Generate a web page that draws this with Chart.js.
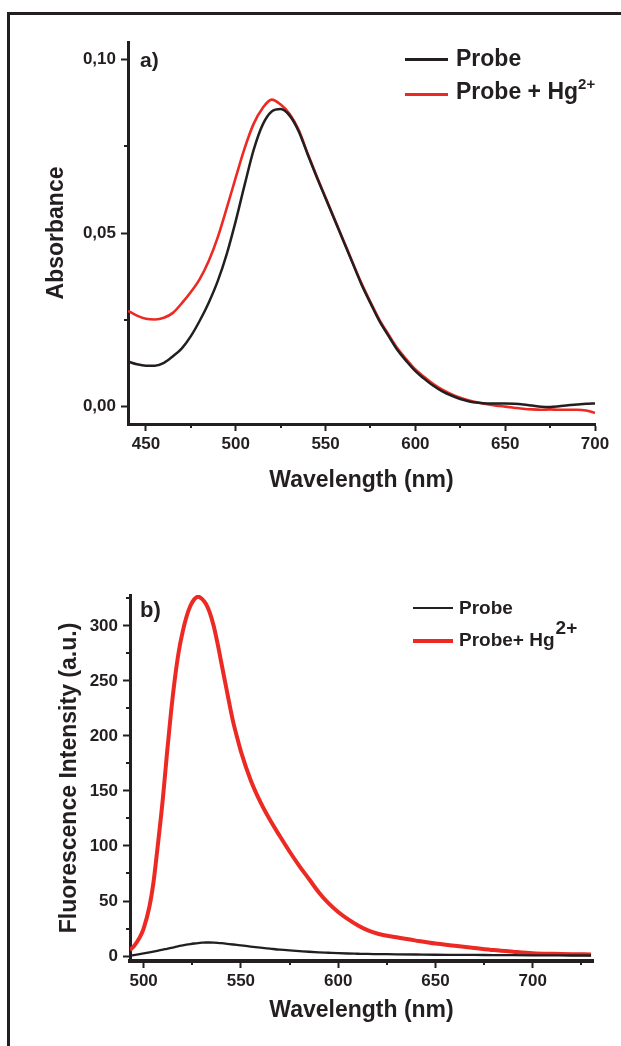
<!DOCTYPE html>
<html><head><meta charset="utf-8">
<script src="https://cdn.jsdelivr.net/npm/chart.js@4.4.1/dist/chart.umd.min.js"></script>
<style>
html,body{margin:0;padding:0;background:#fff;width:621px;height:1046px;overflow:hidden;font-family:"Liberation Sans",Arial,sans-serif;}
#frame{position:absolute;left:7px;top:12px;width:700px;height:1100px;border-left:3px solid #231f20;border-top:3px solid #231f20;}
.c{position:absolute;left:0;width:621px;}
#wa{top:0;height:520px}
#wb{top:530px;height:516px}
.t{position:absolute;font-weight:bold;color:#231f20;white-space:nowrap;}
.ln{position:absolute;}
</style></head><body>
<div id="frame"></div>
<div class="c" id="wa"><canvas id="ca" width="621" height="520"></canvas></div>
<div class="c" id="wb"><canvas id="cb" width="621" height="516"></canvas></div>

<div class="t" style="left:140px;top:49px;font-size:21px;line-height:21px;">a)</div>
<div class="ln" style="left:405px;top:58px;width:43px;height:3px;background:#231f20;"></div>
<div class="t" style="left:456px;top:47px;font-size:23px;line-height:23px;">Probe</div>
<div class="ln" style="left:405px;top:93px;width:43px;height:3px;background:#ec2a23;"></div>
<div class="t" style="left:456px;top:80px;font-size:23px;line-height:23px;">Probe + Hg<span style="font-size:15px;position:relative;top:-10px;">2+</span></div>

<div class="t" style="left:140px;top:599px;font-size:22px;line-height:22px;">b)</div>
<div class="ln" style="left:413px;top:607px;width:40px;height:2px;background:#231f20;"></div>
<div class="t" style="left:459px;top:598px;font-size:19px;line-height:19px;">Probe</div>
<div class="ln" style="left:413px;top:639px;width:40px;height:4px;background:#ec2a23;"></div>
<div class="t" style="left:459px;top:630px;font-size:19px;line-height:19px;">Probe+ Hg<span style="font-size:19px;position:relative;top:-12px;margin-left:1px;">2+</span></div>

<script>
// ---------- Data: panel a) absorbance ----------
const wavelengthA = [440,445,450,455,460,465,470,475,480,485,490,495,500,505,510,515,520,525,530,535,540,545,550,555,560,565,570,575,580,585,590,595,600,605,610,615,620,625,630,635,640,645,650,655,660,665,670,675,680,685,690,695,700];
const probeA = [0.0130,0.0122,0.0118,0.0118,0.0126,0.0145,0.0168,0.0203,0.0248,0.0300,0.0362,0.0440,0.0535,0.0640,0.0740,0.0812,0.0850,0.0857,0.0838,0.0793,0.0727,0.0662,0.0600,0.0538,0.0476,0.0414,0.0352,0.0298,0.0246,0.0204,0.0163,0.0131,0.0102,0.0080,0.0060,0.0044,0.0032,0.0022,0.0015,0.0011,0.0009,0.0009,0.0009,0.0008,0.0006,0.0003,0.0000,-0.0001,0.0001,0.0004,0.0006,0.0008,0.0009];
const probeHgA = [0.0276,0.0262,0.0253,0.0251,0.0256,0.0270,0.0298,0.0330,0.0368,0.0420,0.0488,0.0572,0.0660,0.0745,0.0815,0.0860,0.0884,0.0870,0.0843,0.0797,0.0729,0.0664,0.0602,0.0540,0.0478,0.0416,0.0355,0.0301,0.0250,0.0208,0.0168,0.0136,0.0107,0.0085,0.0065,0.0049,0.0036,0.0026,0.0018,0.0012,0.0007,0.0003,0.0000,-0.0003,-0.0006,-0.0008,-0.0009,-0.0008,-0.0009,-0.0009,-0.0009,-0.0011,-0.0018];
const xTicksA = [450,500,550,600,650,700];
const xMinorA = [475,525,575,625,675];
const yTicksA = [0.00,0.05,0.10];
const yMinorA = [0.025,0.075];

// ---------- Data: panel b) fluorescence ----------
const wavelengthB = [493,495,498,500,503,505,507,510,512,514,516,518,520,522,524,526,528,530,532,534,536,538,540,542,544,546,548,550,555,560,565,570,575,580,585,590,595,600,605,610,615,620,630,640,650,660,670,680,690,700,710,720,730];
const probeB = [0.3,0.9,1.8,2.4,3.4,4.1,4.8,5.9,6.6,7.4,8.1,8.9,9.6,10.3,10.9,11.4,11.8,12.1,12.3,12.3,12.2,12.0,11.7,11.3,10.9,10.5,10.1,9.7,8.6,7.6,6.7,5.8,5.1,4.5,3.9,3.4,3.0,2.6,2.3,2.1,1.9,1.8,1.6,1.4,1.2,1.1,1.0,0.9,0.8,0.7,0.6,0.5,0.5];
const probeHgB = [5.5,9,17,25,45,66,96,145,184,220,251,276,294,308,318,324,326.5,324.5,320,312,300,284,266,248,230,213,199,186,160,140,123.5,109,95,82,70,58,48,40,33.5,28,23.5,20.5,17,14,11.3,9.4,7.4,5.4,3.9,2.6,2.0,1.6,1.5];
const xTicksB = [500,550,600,650,700];
const xMinorB = [525,575,625,675,725];
const yTicksB = [0,50,100,150,200,250,300];
const yMinorB = [25,75,125,175,225,275,325];

const INK = '#231f20';
const RED = '#ec2a23';
const FONT = "'Liberation Sans', Arial, sans-serif";

const minorTicks = {
  id: 'minorTicks',
  afterDraw(chart, args, o) {
    const ctx = chart.ctx, a = chart.chartArea, xs = chart.scales.x, ys = chart.scales.y;
    ctx.save();
    ctx.strokeStyle = INK; ctx.lineWidth = 2;
    o.x.forEach(v => { const p = Math.round(xs.getPixelForValue(v)); ctx.beginPath(); ctx.moveTo(p, a.bottom); ctx.lineTo(p, a.bottom + o.len); ctx.stroke(); });
    o.y.forEach(v => { const p = Math.round(ys.getPixelForValue(v)); ctx.beginPath(); ctx.moveTo(a.left, p); ctx.lineTo(a.left - o.len, p); ctx.stroke(); });
    ctx.restore();
  }
};

function pts(xs, ys) { return xs.map((x, i) => ({x, y: ys[i]})); }

function makeChart(id, cfg) {
  return new Chart(document.getElementById(id), {
    type: 'line',
    data: { datasets: [
      { label: 'Probe', data: pts(cfg.wl, cfg.s1), borderColor: INK, borderWidth: cfg.w1, pointRadius: 0, cubicInterpolationMode: 'monotone' },
      { label: 'Probe + Hg2+', data: pts(cfg.wl, cfg.s2), borderColor: RED, borderWidth: cfg.w2, pointRadius: 0, cubicInterpolationMode: 'monotone' }
    ]},
    options: {
      responsive: false, animation: false, devicePixelRatio: 1,
      layout: { padding: cfg.pad },
      plugins: { legend: { display: false }, tooltip: { enabled: false }, minorTicks: cfg.minor },
      scales: {
        x: {
          type: 'linear', position: 'bottom', min: cfg.xmin, max: cfg.xmax,
          afterBuildTicks: s => { s.ticks = cfg.xt.map(v => ({value: v})); },
          afterFit: s => { s.height = cfg.xh; },
          border: { display: true, color: INK, width: cfg.xbw },
          grid: { drawOnChartArea: false, drawTicks: true, tickLength: 7, tickWidth: 2, tickColor: INK },
          ticks: { color: INK, font: { family: FONT, size: 17, weight: 'bold' }, padding: 3, maxRotation: 0, callback: v => String(v) },
          title: { display: true, text: 'Wavelength (nm)', color: INK, font: { family: FONT, size: 23, weight: 'bold' }, padding: { top: 0, bottom: cfg.xtp } }
        },
        y: {
          type: 'linear', position: 'left', min: cfg.ymin, max: cfg.ymax,
          afterBuildTicks: s => { s.ticks = cfg.yt.map(v => ({value: v})); },
          afterFit: s => { s.width = cfg.yw; },
          border: { display: true, color: INK, width: 3 },
          grid: { drawOnChartArea: false, drawTicks: true, tickLength: 7, tickWidth: 2, tickColor: INK },
          ticks: { color: INK, font: { family: FONT, size: 17, weight: 'bold' }, padding: 5, callback: cfg.yfmt },
          title: { display: true, text: cfg.ytitle, color: INK, font: { family: FONT, size: 23, weight: 'bold' }, padding: { top: cfg.ytp, bottom: 0 } }
        }
      }
    },
    plugins: [minorTicks]
  });
}

makeChart('ca', {
  wl: wavelengthA, s1: probeA, s2: probeHgA, w1: 2.5, w2: 2.6,
  pad: { left: 0, top: 42, right: 26, bottom: 0 },
  xmin: 440, xmax: 700, xt: xTicksA, xh: 96, xbw: 3, xtp: 26,
  ymin: -0.005, ymax: 0.105, yt: yTicksA, yw: 128, ytp: 43,
  yfmt: v => v.toFixed(2).replace('.', ','), ytitle: 'Absorbance',
  minor: { x: xMinorA, y: yMinorA, len: 4 }
});

makeChart('cb', {
  wl: wavelengthB, s1: probeB, s2: probeHgB, w1: 2.3, w2: 4,
  pad: { left: 0, top: 65, right: 28, bottom: 0 },
  xmin: 493, xmax: 731, xt: xTicksB, xh: 85, xbw: 4, xtp: 22,
  ymin: -4.5, ymax: 328, yt: yTicksB, yw: 130, ytp: 56,
  yfmt: v => String(v), ytitle: 'Fluorescence Intensity (a.u.)',
  minor: { x: xMinorB, y: yMinorB, len: 4 }
});
</script>
</body></html>
